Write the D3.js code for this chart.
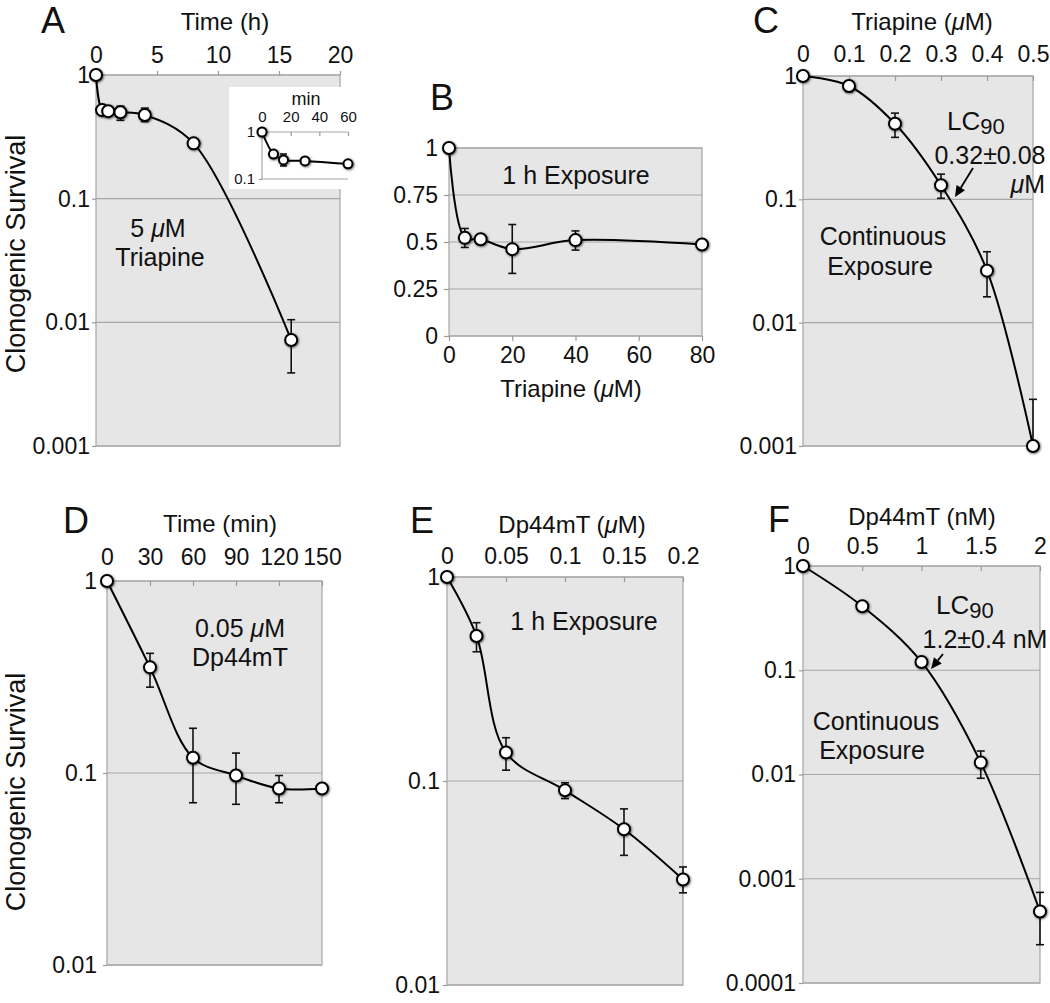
<!DOCTYPE html>
<html><head><meta charset="utf-8">
<script src="https://cdn.jsdelivr.net/npm/d3@7"></script>
<style>body{margin:0;background:#fff}</style>
</head><body>
<svg id="chart" width="1050" height="1003"></svg>
<script>
// ---------- DATA ----------
// Panel A: 5 uM Triapine, time course (h)
const aTime   = [0, 0.5, 1, 2, 4, 8, 16];
const aSurv   = [1, 0.52, 0.51, 0.50, 0.475, 0.28, 0.0072];
const aErrLo  = [null, null, null, 0.43, 0.42, null, 0.0039];
const aErrHi  = [null, null, null, 0.56, 0.54, null, 0.0105];
const aXTicks = [0, 5, 10, 15, 20];
const logTicks3 = [1, 0.1, 0.01, 0.001];
// Panel A inset (min)
const insMin   = [0, 8, 15, 30, 60];
const insSurv  = [1, 0.34, 0.255, 0.243, 0.21];
const insErrLo = [null, null, 0.19, null, null];
const insErrHi = [null, null, 0.34, null, null];
const insXTicks = [0, 20, 40, 60];
const insYTicks = [1, 0.1];
// Panel B: 1 h exposure, Triapine (uM)
const bConc  = [0, 5, 10, 20, 40, 80];
const bSurv  = [1, 0.522, 0.515, 0.462, 0.51, 0.487];
const bErrLo = [null, 0.471, null, 0.333, 0.457, null];
const bErrHi = [null, 0.572, null, 0.593, 0.559, null];
const bXTicks = [0, 20, 40, 60, 80];
const bYTicks = [0, 0.25, 0.5, 0.75, 1];
// Panel C: continuous exposure, Triapine (uM)
const cConc  = [0, 0.1, 0.2, 0.3, 0.4, 0.5];
const cSurv  = [1, 0.83, 0.41, 0.13, 0.0264, 0.001];
const cErrLo = [null, 0.746, 0.318, 0.102, 0.0162, null];
const cErrHi = [null, 0.91, 0.50, 0.16, 0.0376, 0.00239];
const cXTicks = [0, 0.1, 0.2, 0.3, 0.4, 0.5];
// Panel D: 0.05 uM Dp44mT, time (min)
const dTime  = [0, 30, 60, 90, 120, 150];
const dSurv  = [1, 0.355, 0.12, 0.097, 0.083, 0.083];
const dErrLo = [null, 0.28, 0.07, 0.0687, 0.07, null];
const dErrHi = [null, 0.42, 0.171, 0.127, 0.097, null];
const dXTicks = [0, 30, 60, 90, 120, 150];
const logTicks2 = [1, 0.1, 0.01];
// Panel E: 1 h exposure, Dp44mT (uM)
const eConc  = [0, 0.025, 0.05, 0.1, 0.15, 0.2];
const eSurv  = [1, 0.514, 0.138, 0.090, 0.058, 0.0329];
const eErrLo = [null, 0.43, 0.113, 0.082, 0.0432, 0.0283];
const eErrHi = [null, 0.597, 0.163, 0.098, 0.073, 0.0379];
const eXTicks = [0, 0.05, 0.1, 0.15, 0.2];
// Panel F: continuous exposure, Dp44mT (nM)
const fConc  = [0, 0.5, 1, 1.5, 2];
const fSurv  = [1, 0.411, 0.12, 0.013, 0.000485];
const fErrLo = [null, null, null, 0.0092, 0.000233];
const fErrHi = [null, null, null, 0.0168, 0.00074];
const fXTicks = [0, 0.5, 1, 1.5, 2];
const logTicks4 = [1, 0.1, 0.01, 0.001, 0.0001];

// ---------- DRAWING ----------
const FONT = "'Liberation Sans', Arial, Helvetica, sans-serif";
const svg = d3.select('#chart');
svg.append('rect').attr('width', 1050).attr('height', 1003).attr('fill', '#fff');
const defs = svg.append('defs');
const flt = defs.append('filter').attr('id', 'sh').attr('x', '-50%').attr('y', '-50%').attr('width', '200%').attr('height', '200%');
flt.append('feDropShadow').attr('dx', 0.8).attr('dy', 0.8).attr('stdDeviation', 1.1).attr('flood-color', '#000').attr('flood-opacity', 0.65);

function txt(g, x, y, parts, size, anchor) {
  const t = g.append('text').attr('x', x).attr('y', y)
    .attr('font-family', FONT).attr('font-size', size).attr('fill', '#111')
    .attr('text-anchor', anchor || 'middle');
  parts.forEach(p => {
    const s = t.append('tspan').text(p.t);
    if (p.i) s.attr('font-style', 'italic');
    if (p.size) s.attr('font-size', p.size);
    if (p.dy) s.attr('dy', p.dy);
  });
  return t;
}

function panel(c) {
  const g = svg.append('g');
  const x = d3.scaleLinear().domain(c.xDomain).range([c.left, c.right]);
  const y = (c.log ? d3.scaleLog() : d3.scaleLinear()).domain(c.yDomain).range([c.top, c.bottom]);
  const bg = c.bg || '#e6e6e6';
  g.append('rect').attr('x', c.left).attr('y', c.top).attr('width', c.right - c.left)
    .attr('height', c.bottom - c.top).attr('fill', bg);
  if (c.grid) {
    g.selectAll('line.grid').data(c.yTicks).enter().append('line')
      .attr('x1', c.left).attr('x2', c.right).attr('y1', d => y(d)).attr('y2', d => y(d))
      .attr('stroke', '#a6a6a6').attr('stroke-width', 1.2);
  }
  if (c.border !== false) {
    g.append('rect').attr('x', c.left).attr('y', c.top).attr('width', c.right - c.left)
      .attr('height', c.bottom - c.top).attr('fill', 'none').attr('stroke', '#a6a6a6').attr('stroke-width', 1.2);
  }
  return {g, x, y};
}

function axes(P, c) {
  const {g, x, y} = P;
  const fs = c.fs || 23;
  const xa = (c.xPos === 'bottom' ? d3.axisBottom(x) : d3.axisTop(x))
    .tickValues(c.xTicks).tickFormat(String).tickSize(c.xTickSize).tickPadding(c.xPad);
  const gx = g.append('g').attr('transform', `translate(0,${c.xPos === 'bottom' ? c.bottom : c.top})`).call(xa);
  const ya = d3.axisLeft(y).tickValues(c.yTicks).tickFormat(String).tickSize(c.yTickSize).tickPadding(c.yPad);
  const gy = g.append('g').attr('transform', `translate(${c.left},0)`).call(ya);
  [gx, gy].forEach(a => {
    a.select('.domain').remove();
    a.selectAll('.tick line').attr('stroke', '#9a9a9a').attr('stroke-width', 1.2);
    a.selectAll('.tick text').attr('font-family', FONT).attr('font-size', fs).attr('fill', '#111');
  });
}

function series(P, xs, ys, lo, hi, r, cap) {
  const {g, x, y} = P;
  const pts = xs.map((v, i) => ({x: v, y: ys[i], lo: lo[i], hi: hi[i]}));
  const eb = pts.filter(d => d.lo != null || d.hi != null);
  eb.forEach(d => {
    const y1 = y(d.hi != null ? d.hi : d.y), y2 = y(d.lo != null ? d.lo : d.y), cx = x(d.x);
    g.append('line').attr('x1', cx).attr('x2', cx).attr('y1', y1).attr('y2', y2).attr('stroke', '#111').attr('stroke-width', 1.6);
    if (d.hi != null) g.append('line').attr('x1', cx - cap).attr('x2', cx + cap).attr('y1', y1).attr('y2', y1).attr('stroke', '#111').attr('stroke-width', 1.6);
    if (d.lo != null) g.append('line').attr('x1', cx - cap).attr('x2', cx + cap).attr('y1', y2).attr('y2', y2).attr('stroke', '#111').attr('stroke-width', 1.6);
  });
  const line = d3.line().x(d => x(d.x)).y(d => y(d.y)).curve(d3.curveCatmullRom.alpha(0.5));
  g.append('path').datum(pts).attr('d', line).attr('fill', 'none').attr('stroke', '#000').attr('stroke-width', 2);
  g.selectAll('circle.m').data(pts).enter().append('circle')
    .attr('cx', d => x(d.x)).attr('cy', d => y(d.y)).attr('r', r)
    .attr('fill', '#fff').attr('stroke', '#000').attr('stroke-width', 2).attr('filter', 'url(#sh)');
}

function arrow(x1, y1, x2, y2) {
  const ang = Math.atan2(y2 - y1, x2 - x1), L = 11, W = 5;
  const bx = x2 - L * Math.cos(ang), by = y2 - L * Math.sin(ang);
  svg.append('line').attr('x1', x1).attr('y1', y1).attr('x2', bx).attr('y2', by).attr('stroke', '#000').attr('stroke-width', 1.8);
  const px = -Math.sin(ang) * W, py = Math.cos(ang) * W;
  svg.append('path').attr('d', `M${x2},${y2}L${bx + px},${by + py}L${bx - px},${by - py}Z`).attr('fill', '#000');
}

function letter(s, x, y) { txt(svg, x, y, [{t: s}], 36, 'start'); }

// ---- Panel A ----
const cA = {left: 96, right: 340, top: 75, bottom: 446, xDomain: [0, 20], yDomain: [1, 0.001], log: true,
  yTicks: logTicks3, xTicks: aXTicks, grid: true, xTickSize: 4, xPad: 8, yTickSize: 4, yPad: 2};
const PA = panel(cA); axes(PA, cA);
// inset
svg.append('rect').attr('x', 229).attr('y', 87).attr('width', 123).attr('height', 102).attr('fill', '#fff');
const cI = {left: 262, right: 348, top: 132, bottom: 179, xDomain: [0, 60], yDomain: [1, 0.1], log: true,
  yTicks: insYTicks, xTicks: insXTicks, bg: '#fff', border: false, xTickSize: -4, xPad: 10, yTickSize: 3, yPad: 4, fs: 15};
const PI = panel(cI);
PI.g.append('path').attr('d', `M${cI.right},${cI.top}H${cI.left}V${cI.bottom}H${cI.right}`).attr('fill', 'none').attr('stroke', '#a6a6a6').attr('stroke-width', 1.2);
axes(PI, cI);
txt(svg, 306, 105, [{t: 'min'}], 18);
series(PI, insMin, insSurv, insErrLo, insErrHi, 4.5, 3.5);
series(PA, aTime, aSurv, aErrLo, aErrHi, 6, 4);
letter('A', 41, 33);
txt(svg, 225, 30, [{t: 'Time (h)'}], 24);
txt(svg, 158, 237, [{t: '5 '}, {t: 'μ', i: true}, {t: 'M'}], 25);
txt(svg, 160, 266, [{t: 'Triapine'}], 25);

// ---- Panel B ----
const cB = {left: 449, right: 702, top: 148, bottom: 336, xDomain: [0, 80], yDomain: [1, 0], log: false,
  yTicks: bYTicks, xTicks: bXTicks, grid: true, xPos: 'bottom', xTickSize: 5, xPad: 6, yTickSize: 5, yPad: 6};
const PB = panel(cB); axes(PB, cB);
series(PB, bConc, bSurv, bErrLo, bErrHi, 6, 4);
letter('B', 430, 110);
txt(svg, 576, 184, [{t: '1 h Exposure'}], 25);
txt(svg, 571, 397, [{t: 'Triapine ('}, {t: 'μ', i: true}, {t: 'M)'}], 24);

// ---- Panel C ----
const cC = {left: 803, right: 1033, top: 76, bottom: 446, xDomain: [0, 0.5], yDomain: [1, 0.001], log: true,
  yTicks: logTicks3, xTicks: cXTicks, grid: true, xTickSize: -5, xPad: 14, yTickSize: 4, yPad: 2};
const PC = panel(cC); axes(PC, cC);
series(PC, cConc, cSurv, cErrLo, cErrHi, 6, 4);
letter('C', 753, 33);
txt(svg, 922, 30, [{t: 'Triapine ('}, {t: 'μ', i: true}, {t: 'M)'}], 24);
txt(svg, 947, 130, [{t: 'LC'}, {t: '90', size: 22, dy: 4}], 26, 'start');
txt(svg, 990, 164, [{t: '0.32±0.08'}], 25);
txt(svg, 1045, 193, [{t: 'μ', i: true}, {t: 'M'}], 25, 'end');
arrow(973, 168, 955, 197);
txt(svg, 883, 245, [{t: 'Continuous'}], 25);
txt(svg, 880, 275, [{t: 'Exposure'}], 25);

// ---- Panel D ----
const cD = {left: 107, right: 322, top: 581, bottom: 965, xDomain: [0, 150], yDomain: [1, 0.01], log: true,
  yTicks: logTicks2, xTicks: dXTicks, grid: true, xTickSize: -5, xPad: 16, yTickSize: 4, yPad: 6};
const PD = panel(cD); axes(PD, cD);
series(PD, dTime, dSurv, dErrLo, dErrHi, 6, 4);
letter('D', 63, 533);
txt(svg, 220, 532, [{t: 'Time (min)'}], 24);
txt(svg, 240, 637, [{t: '0.05 '}, {t: 'μ', i: true}, {t: 'M'}], 25);
txt(svg, 240, 666, [{t: 'Dp44mT'}], 25);

// ---- Panel E ----
const cE = {left: 447, right: 683, top: 577, bottom: 985, xDomain: [0, 0.2], yDomain: [1, 0.01], log: true,
  yTicks: logTicks2, xTicks: eXTicks, grid: true, xTickSize: -5, xPad: 13.5, yTickSize: 4, yPad: 3};
const PE = panel(cE); axes(PE, cE);
series(PE, eConc, eSurv, eErrLo, eErrHi, 6, 4);
letter('E', 410, 533);
txt(svg, 572, 533, [{t: 'Dp44mT ('}, {t: 'μ', i: true}, {t: 'M)'}], 24);
txt(svg, 584, 630, [{t: '1 h Exposure'}], 25);

// ---- Panel F ----
const cF = {left: 803, right: 1040, top: 566, bottom: 983, xDomain: [0, 2], yDomain: [1, 0.0001], log: true,
  yTicks: logTicks4, xTicks: fXTicks, grid: true, xTickSize: -5, xPad: 12.5, yTickSize: 4, yPad: 3};
const PF = panel(cF); axes(PF, cF);
series(PF, fConc, fSurv, fErrLo, fErrHi, 6, 4);
letter('F', 768, 532);
txt(svg, 922, 525, [{t: 'Dp44mT (nM)'}], 24);
txt(svg, 936, 614, [{t: 'LC'}, {t: '90', size: 22, dy: 4}], 26, 'start');
txt(svg, 985, 648, [{t: '1.2±0.4 nM'}], 25);
arrow(943, 654, 931, 669);
txt(svg, 876, 730, [{t: 'Continuous'}], 25);
txt(svg, 872, 759, [{t: 'Exposure'}], 25);

// ---- shared y titles ----
svg.append('text').attr('transform', 'translate(25,254) rotate(-90)').attr('text-anchor', 'middle')
  .attr('font-family', FONT).attr('font-size', 27).attr('fill', '#111').text('Clonogenic Survival');
svg.append('text').attr('transform', 'translate(25,792) rotate(-90)').attr('text-anchor', 'middle')
  .attr('font-family', FONT).attr('font-size', 27).attr('fill', '#111').text('Clonogenic Survival');
</script>
</body></html>
